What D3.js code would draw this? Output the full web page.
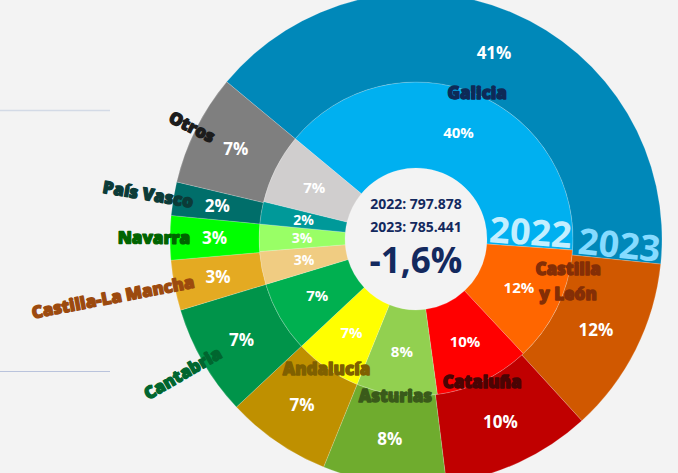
<!DOCTYPE html>
<html>
<head>
<meta charset="utf-8">
<script src="https://cdn.jsdelivr.net/npm/d3@7"></script>
<style>
  body { margin: 0; background: #f3f3f3; }
  svg { display: block; font-family: "Open Sans", "Noto Sans", sans-serif; }
  .pct { fill: #fff; font-weight: 700; text-anchor: middle; }
  .name { font-weight: 800; paint-order: stroke; }
  .center-text { fill: #13295e; font-weight: 700; text-anchor: middle; }
</style>
</head>
<body>
<svg id="chart"></svg>
<script>
// regions, clockwise from Galicia
const regions = ['Galicia', 'Castilla y León', 'Cataluña', 'Asturias', 'Andalucía',
  'Cantabria', 'Castilla-La Mancha', 'Navarra', 'País Vasco', 'Otros'];

// share of total (%)
const share2022 = [40.1, 11.9, 9.8, 8.3, 6.9, 7.3, 3.4, 2.8, 2.3, 7.2];
const share2023 = [40.6, 11.6, 9.8, 8.1, 6.9, 7.3, 3.3, 2.9, 2.2, 7.3];

const years = ['2022', '2023'];
const totals = [797878, 785441];

const colors2022 = ['#00b0f0', '#ff6600', '#ff0000', '#92d050', '#ffff00',
  '#00b050', '#f0cc82', '#99ff66', '#009999', '#d0cece'];
const colors2023 = ['#0088b9', '#d05800', '#c00000', '#6fac2e', '#bf9000',
  '#00944a', '#e4aa22', '#00ff00', '#006e6a', '#7f7f7f'];
const nameColors = ['#0e2a57', '#842e06', '#4a0404', '#3a5a1a', '#7f6000',
  '#00662f', '#9c4a0e', '#006400', '#0b3b38', '#1c1c1c'];

class DonutChart {

  constructor(_config) {
    this.config = {
      parentElement: _config.parentElement,
      containerWidth: _config.containerWidth || 678,
      containerHeight: _config.containerHeight || 473,
      cx: _config.cx || 416,
      cy: _config.cy || 239,
      holeRadius: 71,
      midRadius: 157,
      outerRadius: 246
    }
    this.initVis();
  }

  initVis() {
    let vis = this;
    const c = vis.config;

    vis.svg = d3.select(c.parentElement)
        .attr('width', c.containerWidth)
        .attr('height', c.containerHeight);

    // little rules on the left
    vis.svg.append('line')
        .attr('x1', 0).attr('x2', 110).attr('y1', 110.5).attr('y2', 110.5)
        .attr('stroke', '#d3dae6').attr('stroke-width', 1.5);
    vis.svg.append('line')
        .attr('x1', 0).attr('x2', 110).attr('y1', 371.5).attr('y2', 371.5)
        .attr('stroke', '#b9c3dc').attr('stroke-width', 1);

    vis.chart = vis.svg.append('g')
        .attr('transform', `translate(${c.cx},${c.cy})`);

    const start = -50.3 * Math.PI / 180;
    vis.pie = d3.pie()
        .sort(null)
        .value(d => d.value)
        .startAngle(start)
        .endAngle(start + 2 * Math.PI);

    vis.innerArc = d3.arc().innerRadius(c.holeRadius).outerRadius(c.midRadius);
    vis.outerArc = d3.arc().innerRadius(c.midRadius).outerRadius(c.outerRadius);

    vis.renderVis();
  }

  renderVis() {
    let vis = this;
    const c = vis.config;

    const ring22 = vis.pie(regions.map((r, i) => ({name: r, value: share2022[i], color: colors2022[i]})));
    const ring23 = vis.pie(regions.map((r, i) => ({name: r, value: share2023[i], color: colors2023[i]})));

    vis.chart.selectAll('.slice-2022')
      .data(ring22)
      .join('path')
        .attr('class', 'slice-2022')
        .attr('d', vis.innerArc)
        .attr('fill', d => d.data.color)
        .attr('stroke', 'rgba(255,255,255,0.3)')
        .attr('stroke-width', 0.6);

    vis.chart.selectAll('.slice-2023')
      .data(ring23)
      .join('path')
        .attr('class', 'slice-2023')
        .attr('d', vis.outerArc)
        .attr('fill', d => d.data.color)
        .attr('stroke', 'rgba(255,255,255,0.3)')
        .attr('stroke-width', 0.6);

    // percentage labels
    const pctFmt = d => Math.round(d.data.value) + '%';
    vis.chart.selectAll('.pct-2022')
      .data(ring22)
      .join('text')
        .attr('class', 'pct pct-2022')
        .attr('transform', d => `translate(${vis.innerArc.centroid(d)})`)
        .attr('dy', '0.35em')
        .style('font-size', d => d.data.value < 5 ? '14px' : '15px')
        .text(pctFmt);

    vis.chart.selectAll('.pct-2023')
      .data(ring23)
      .join('text')
        .attr('class', 'pct pct-2023')
        .attr('transform', d => `translate(${vis.outerArc.centroid(d)})`)
        .attr('dy', '0.35em')
        .style('font-size', '17px')
        .text(pctFmt);

    // region names
    const deg = a => a * 180 / Math.PI;
    const nudge = {'Castilla y León': -11};
    const polar = (aDeg, r) => [r * Math.sin(aDeg * Math.PI / 180), -r * Math.cos(aDeg * Math.PI / 180)];

    vis.chart.selectAll('.name')
      .data(ring23)
      .join('text')
        .attr('class', 'name')
        .style('font-size', '17px')
        .attr('fill', (d, i) => nameColors[i])
        .attr('stroke', (d, i) => nameColors[i])
        .attr('stroke-width', 1.3)
        .attr('stroke-linejoin', 'round')
        .each(function(d) {
          const el = d3.select(this);
          const mid = deg((d.startAngle + d.endAngle) / 2) + (nudge[d.data.name] || 0);
          if (mid < 230) {
            const [x, y] = polar(mid, 158);
            el.attr('text-anchor', 'middle')
              .attr('transform', `translate(${x},${y})`);
            const parts = d.data.name.split(' y ');
            if (parts.length > 1) {
              el.append('tspan').attr('x', 0).attr('dy', '-0.4em').text(parts[0]);
              el.append('tspan').attr('x', 0).attr('dy', '1.45em').text('y ' + parts[1]);
            } else {
              el.attr('dy', '0.35em').text(d.data.name);
            }
          } else {
            const [x, y] = polar(mid, 226);
            el.attr('text-anchor', 'end')
              .attr('dy', '0.35em')
              .attr('transform', `translate(${x},${y}) rotate(${mid - 270})`)
              .text(d.data.name);
          }
        });

    // year tags along the end of the first slice
    const yearTags = [
      {label: years[0], angle: deg(ring22[0].endAngle), r: c.midRadius, color: '#c4efff'},
      {label: years[1], angle: deg(ring23[0].endAngle), r: c.outerRadius, color: '#86dbff'}
    ];
    vis.chart.selectAll('.year-tag')
      .data(yearTags)
      .join('text')
        .attr('class', 'year-tag')
        .attr('transform', d => `rotate(${d.angle - 90}) translate(${d.r - 2},-2)`)
        .attr('text-anchor', 'end')
        .attr('fill', d => d.color)
        .style('font-size', '36px')
        .style('font-weight', 700)
        .text(d => d.label);

    // center summary
    const es = d3.formatLocale({decimal: ',', thousands: '.', grouping: [3], currency: ['', '€'], minus: '-'});
    const change = (totals[1] - totals[0]) / totals[0];

    vis.chart.selectAll('.total')
      .data(years)
      .join('text')
        .attr('class', 'center-text total')
        .attr('y', (d, i) => -30 + i * 23)
        .style('font-size', '14px')
        .text((d, i) => `${d}: ${es.format(',')(totals[i])}`);

    vis.chart.append('text')
        .attr('class', 'center-text')
        .attr('y', 34)
        .style('font-size', '35px')
        .text(es.format('.1f')(change * 100) + '%');
  }
}

new DonutChart({parentElement: '#chart'});
</script>
</body>
</html>
